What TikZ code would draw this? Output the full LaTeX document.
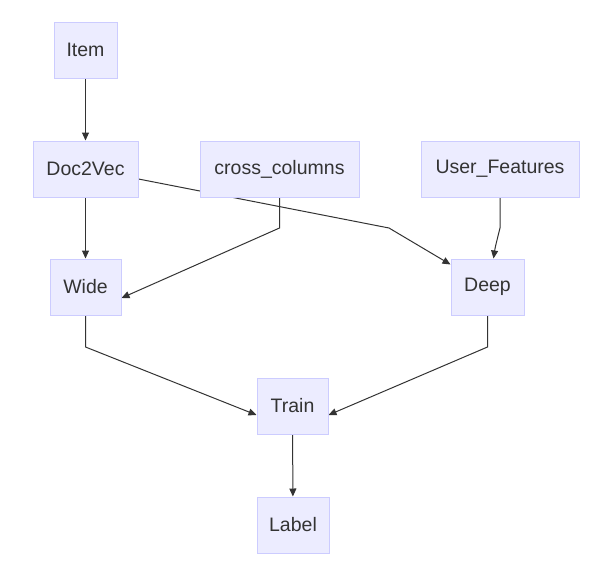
\documentclass[tikz,border=0pt]{standalone}
\usepackage{fontspec}
\setmainfont{Liberation Sans}
\usetikzlibrary{arrows.meta,backgrounds}
\definecolor{nodefill}{HTML}{ECECFF}
\definecolor{nodeline}{HTML}{CCCCFF}
\definecolor{ink}{HTML}{333333}
\tikzset{
  box/.style={draw=nodeline, fill=nodefill, line width=1pt, rectangle, inner sep=0pt,
    minimum height=56pt, text=ink, font=\fontsize{19.5pt}{22pt}\selectfont},
  link/.style={draw=ink, line width=1pt, -{Triangle[length=8pt,width=7pt]}}
}
\begin{document}
\begin{tikzpicture}[x=1pt,y=-1pt]
\useasboundingbox (0,0) rectangle (611,584);
\node[box, minimum width=63pt]  (item)  at (85.5,50)  {Item};
\node[box, minimum width=105pt] (doc)   at (85.5,169) {Doc2Vec};
\node[box, minimum width=159pt] (cross) at (279.5,169) {cross\_columns};
\node[box, minimum width=158pt] (user)  at (500,169)  {User\_Features};
\node[box, minimum width=71pt]  (wide)  at (85.5,287) {Wide};
\node[box, minimum width=73pt]  (deep)  at (487.5,287) {Deep};
\node[box, minimum width=71pt]  (train) at (292.5,406) {Train};
\node[box, minimum width=72pt]  (label) at (293,525)  {Label};
\coordinate (b1) at (389,228);
\coordinate (b2) at (279.5,228);
\coordinate (b3) at (500,228);
\coordinate (b4) at (85.5,347);
\coordinate (b5) at (487.5,347);
\begin{scope}[on background layer]
\draw[link] (item) -- (doc);
\draw[link] (doc) -- (wide);
\draw[link] ([yshift=-10pt]doc.east) -- (b1) -- ([yshift=-6pt]deep.north west);
\draw[link] (cross.south) -- (b2) -- ([yshift=-11pt]wide.east);
\draw[link] (user.south) -- (b3) .. controls (497,240) and (495,248) .. ([xshift=6pt]deep.north);
\draw[link] (wide.south) -- (b4) -- ([yshift=-9pt]train.west);
\draw[link] (deep.south) -- (b5) -- ([yshift=-9pt]train.east);
\draw[link] (train) -- (label);
\end{scope}
\end{tikzpicture}
\end{document}
